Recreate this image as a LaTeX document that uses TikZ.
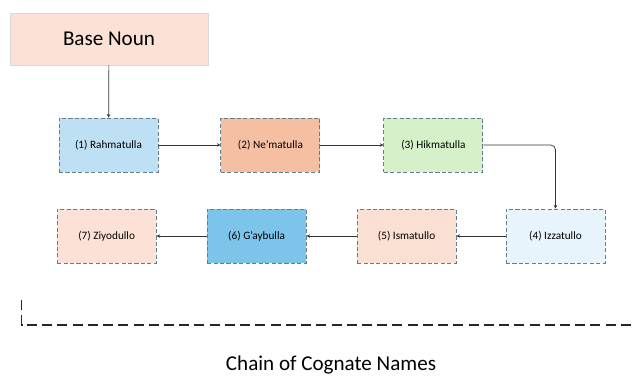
\documentclass[tikz,border=0pt]{standalone}
\usepackage{fontspec}
\setmainfont{Carlito}
\usetikzlibrary{arrows.meta,positioning}
\definecolor{peach}{RGB}{251,225,214}
\definecolor{skyblue}{RGB}{190,224,244}
\definecolor{salmon}{RGB}{245,192,162}
\definecolor{mint}{RGB}{214,240,202}
\definecolor{iceblue}{RGB}{232,244,251}
\definecolor{rose}{RGB}{250,223,211}
\definecolor{deepblue}{RGB}{125,196,234}
\definecolor{edgegray}{RGB}{100,125,140}

\begin{document}
\begin{tikzpicture}[x=0.03cm, y=-0.03cm,
          cognate/.style={draw=edgegray, dash pattern=on 3.5pt off 2pt, thick,
                      minimum width=2.97cm, minimum height=1.62cm,
                      font=\fontsize{9.6}{11}\selectfont, inner sep=0pt},
          arr/.style={-{Stealth[length=3pt,width=3pt]}, semithick, black!80}
        ]
          \useasboundingbox (0,0) rectangle (636,377);
          \node[draw=black!15, fill=peach, minimum width=5.94cm, minimum height=1.56cm,
                font=\fontsize{18}{21}\selectfont, inner sep=0pt] (base) at (109,39) {Base Noun};
          \node[cognate, fill=skyblue] (rahm) at (108.5,145) {(1) Rahmatulla};
          \node[cognate, fill=salmon, right=1.86cm of rahm] (nema) {(2) Ne'matulla};
          \node[cognate, fill=mint, right=1.89cm of nema] (hikm) {(3) Hikmatulla};
          \node[cognate, fill=iceblue] (izza) at (555.5,236) {(4) Izzatullo};
          \node[cognate, fill=rose, left=1.47cm of izza] (isma) {(5) Ismatullo};
          \node[cognate, fill=deepblue, left=1.5cm of isma] (gayb) {(6) G'aybulla};
          \node[cognate, fill=peach, left=1.5cm of gayb] (ziyo) {(7) Ziyodullo};
          \draw[arr] (base) -- (rahm);
          \draw[arr] (rahm) -- (nema);
          \draw[arr] (nema) -- (hikm);
          \draw[arr, rounded corners=4pt] (hikm.east) -| (izza.north);
          \draw[arr] (izza) -- (isma);
          \draw[arr] (isma) -- (gayb);
          \draw[arr] (gayb) -- (ziyo);
          % frame corner
          \coordinate (top) at (21.5,300);
          \coordinate (corner) at (21.5,325);
          \coordinate (far) at (636,325);
          \draw[black!85, line width=1.1pt, dash pattern=on 8.5pt off 4.5pt] (top) -- (corner) -- (far);
          \node[font=\fontsize{18}{21}\selectfont] (chain) at (331,365) {Chain of Cognate Names};
        \end{tikzpicture}
\end{document}
